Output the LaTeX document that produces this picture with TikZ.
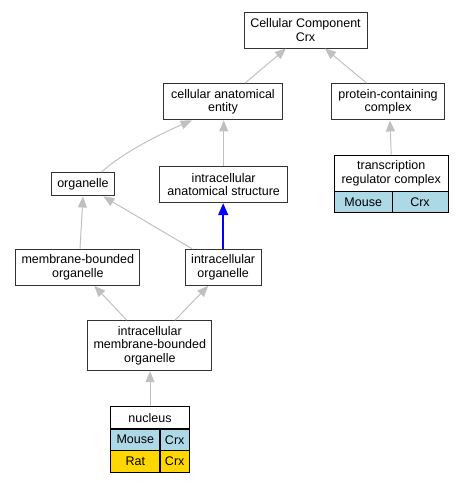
\documentclass[tikz,border=0pt]{standalone}
\usepackage{fontspec}
\setmainfont{Liberation Sans}
\usetikzlibrary{arrows.meta}
\definecolor{edgegray}{HTML}{C0C0C0}
\definecolor{boxline}{HTML}{333333}
\definecolor{mouseblue}{HTML}{ADD8E6}
\definecolor{ratgold}{HTML}{FFD700}
\begin{document}
\begin{tikzpicture}[x=1pt,y=-1pt,
  every node/.style={font=\fontsize{12.5}{13.6}\selectfont, align=center, inner sep=0pt},
  termbox/.style={draw=boxline, line width=1pt, fill=white, rectangle},
  cellbox/.style={draw=black, line width=1pt, rectangle},
  isa/.style={draw=edgegray, line width=1pt, -{Triangle[length=11pt,width=9pt]}},
  partof/.style={draw=blue, line width=1.6pt, -{Triangle[length=12pt,width=10pt]}}
]
\useasboundingbox (0,0) rectangle (463,483);

% term boxes
\node[termbox, minimum width=123pt, minimum height=36pt] (cc) at (305.5,30) {Cellular Component\\Crx};
\node[termbox, minimum width=119.4pt, minimum height=36.3pt] (cae) at (223,101.8) {cellular anatomical\\entity};
\node[termbox, minimum width=112.6pt, minimum height=36.3pt] (pcc) at (388,101.8) {protein-containing\\complex};
\node[termbox, minimum width=62.6pt, minimum height=23.3pt] (org) at (83,184.3) {organelle};
\node[termbox, minimum width=128pt, minimum height=36pt] (ias) at (223.7,184.7) {intracellular\\anatomical structure};
\node[termbox, minimum width=124.3pt, minimum height=36.3pt] (mbo) at (77.8,267.2) {membrane-bounded\\organelle};
\node[termbox, minimum width=76.3pt, minimum height=36.3pt] (io) at (223.2,267.2) {intracellular\\organelle};
\node[termbox, minimum width=124.3pt, minimum height=50pt] (imbo) at (149.8,345.7) {intracellular\\membrane-bounded\\organelle};

% transcription regulator complex table
\node[cellbox, fill=white, minimum width=113.7pt, minimum height=36.4pt] (trc) at (391.2,173.5) {transcription\\regulator complex};
\node[cellbox, fill=mouseblue, minimum width=57.7pt, minimum height=21pt] (trcm) at (363.2,202.2) {Mouse};
\node[cellbox, fill=mouseblue, minimum width=56pt, minimum height=21pt] (trcc) at (420,202.2) {Crx};

% nucleus table
\node[cellbox, fill=white, minimum width=78.6pt, minimum height=22.3pt] (nuc) at (150,417.8) {nucleus};
\node[cellbox, fill=mouseblue, minimum width=49.3pt, minimum height=21.3pt] (nucm) at (135.3,439.7) {Mouse};
\node[cellbox, fill=mouseblue, minimum width=29.3pt, minimum height=21.3pt] (nucmc) at (174.7,439.7) {Crx};
\node[cellbox, fill=ratgold, minimum width=49.3pt, minimum height=21.7pt] (nucr) at (135.3,461.2) {Rat};
\node[cellbox, fill=ratgold, minimum width=29.3pt, minimum height=21.7pt] (nucrc) at (174.7,461.2) {Crx};

% edges
\draw[isa] ([xshift=22pt]cae.north) -- ([xshift=-19.5pt]cc.south);
\draw[isa] ([xshift=-21.3pt]pcc.north) -- ([xshift=19.5pt]cc.south);
\draw[isa] ([xshift=18.7pt]org.north) .. controls +(14,-14) and +(-42,18) .. ([xshift=-31.3pt]cae.south);
\draw[isa] (ias.north) -- (ias.north |- cae.south);
\draw[isa] (trc.north) -- ([xshift=2pt]pcc.south);
\draw[partof] (io.north) -- (io.north |- ias.south);
\draw[isa] ([xshift=2.2pt]mbo.north) -- (org.south);
\draw[isa] ([xshift=-31.5pt]io.north) -- ([xshift=20.3pt]org.south);
\draw[isa] ([xshift=-23pt]imbo.north) -- ([xshift=16.5pt]mbo.south);
\draw[isa] ([xshift=25.2pt]imbo.north) -- ([xshift=-15pt]io.south);
\draw[isa] (nuc.north) -- (nuc.north |- imbo.south);
\end{tikzpicture}
\end{document}
